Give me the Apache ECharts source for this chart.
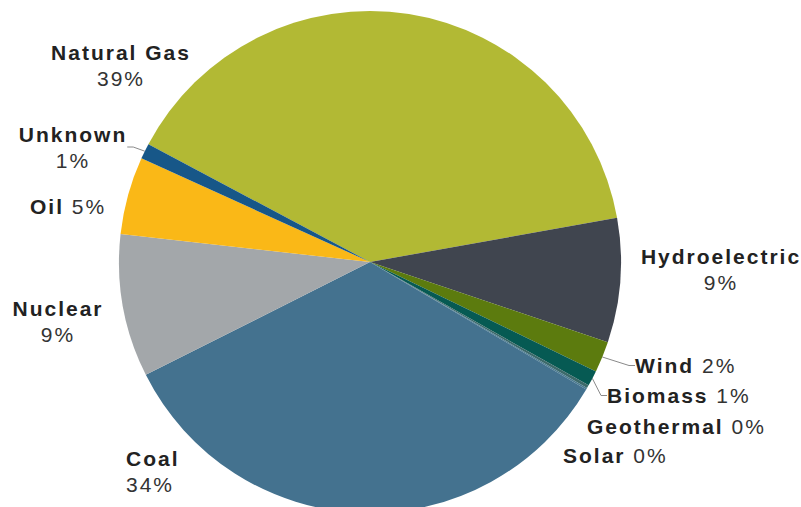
<!DOCTYPE html>
<html>
<head>
<meta charset="utf-8">
<script src="https://cdn.jsdelivr.net/npm/echarts@6/dist/echarts.min.js"></script>
<style>
  html, body { margin: 0; padding: 0; background: #ffffff; }
  #main { width: 801px; height: 507px; }
  #main text { letter-spacing: 2px; }
</style>
</head>
<body>
<div id="main"></div>
<script>
// Data (clockwise, starting with Natural Gas)
const names = ['Natural Gas', 'Hydroelectric', 'Wind', 'Biomass', 'Geothermal', 'Solar', 'Coal', 'Nuclear', 'Oil', 'Unknown'];
const values = [39.4, 8.0, 2.0, 1.0, 0.2, 0.1, 34.1, 9.2, 5.0, 1.0];
const pctLabels = ['39%', '9%', '2%', '1%', '0%', '0%', '34%', '9%', '5%', '1%'];
const colors = ['#b2b934', '#40454f', '#5c7b0e', '#065a53', '#3d6a6a', '#4a7a8f', '#44728f', '#a3a7aa', '#fab817', '#175788'];
const withLeader = ['Unknown', 'Wind', 'Biomass'];

// Label placement (layout only)
const labelSpots = {
  'Natural Gas':   { x: 121, y: 65.5,  align: 'center', stack: true },
  'Hydroelectric': { x: 721, y: 269,   align: 'center', stack: true },
  'Wind':          { x: 635, y: 365.5, align: 'left' },
  'Biomass':       { x: 607, y: 395.5, align: 'left' },
  'Geothermal':    { x: 587, y: 426.7, align: 'left' },
  'Solar':         { x: 563, y: 455,   align: 'left' },
  'Coal':          { x: 126, y: 471.3, align: 'left', stack: true },
  'Nuclear':       { x: 58,  y: 321.7, align: 'center', stack: true },
  'Oil':           { x: 30,  y: 206.7, align: 'left' },
  'Unknown':       { x: 73,  y: 147,   align: 'center', stack: true }
};

// Text measurement that accounts for the letter spacing used in the SVG text
const LETTER_SPACING = 2;
if (echarts.setPlatformAPI) {
  const mctx = document.createElement('canvas').getContext('2d');
  echarts.setPlatformAPI({
    measureText: function (text, font) {
      mctx.font = font || '12px sans-serif';
      const t = text || '';
      return { width: mctx.measureText(t).width + t.length * LETTER_SPACING };
    }
  });
}

const chart = echarts.init(document.getElementById('main'), null, { renderer: 'svg' });

const seriesData = names.map((n, i) => ({
  name: n,
  value: values[i],
  itemStyle: { color: colors[i] },
  labelLine: { show: withLeader.indexOf(n) >= 0 }
}));

chart.setOption({
  animation: false,
  backgroundColor: '#ffffff',
  series: [{
    type: 'pie',
    center: [370, 262],
    radius: [0, 251],
    startAngle: 152,
    clockwise: true,
    avoidLabelOverlap: false,
    silent: true,
    itemStyle: { borderWidth: 0 },
    label: {
      show: true,
      position: 'outside',
      formatter: function (p) {
        const s = labelSpots[p.name];
        const pct = pctLabels[p.dataIndex];
        return s.stack ? '{n|' + p.name + '}\n{p|' + pct + '}' : '{n|' + p.name + '}{p| ' + pct + '}';
      },
      rich: {
        n: { fontFamily: 'Liberation Sans', fontWeight: 'bold', fontSize: 21, color: '#222222', lineHeight: 26 },
        p: { fontFamily: 'Liberation Sans', fontWeight: 'normal', fontSize: 21, color: '#333333', lineHeight: 26 }
      }
    },
    labelLine: {
      length: 8,
      length2: 6,
      lineStyle: { color: '#8a8a8a', width: 1 }
    },
    labelLayout: function (params) {
      const s = labelSpots[names[params.dataIndex]];
      return { x: s.x, y: s.y, align: s.align, verticalAlign: 'middle' };
    },
    data: seriesData
  }]
});
</script>
</body>
</html>
